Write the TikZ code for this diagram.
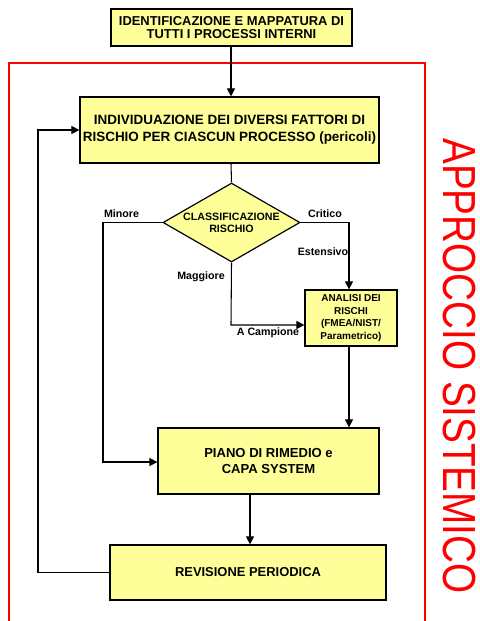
\documentclass[tikz,border=0pt]{standalone}
\usepackage{fontspec}
\setmainfont{Liberation Sans}
\usetikzlibrary{arrows.meta,shapes.geometric}

\definecolor{boxfill}{RGB}{255,255,153}
\definecolor{frame}{RGB}{255,0,0}

\begin{document}
\begin{tikzpicture}[
    x=0.75pt, y=-0.75pt,
    >={Triangle[length=6pt,width=6pt]},
    box/.style={draw, line width=0.9pt, fill=boxfill, align=center, inner sep=2pt, font=\bfseries\fontsize{9.7}{10}\selectfont},
    decision/.style={diamond, aspect=1.73, draw, line width=0.9pt, fill=boxfill, align=center, inner sep=0pt, font=\bfseries\fontsize{8}{9}\selectfont},
    tag/.style={font=\bfseries\fontsize{8}{9}\selectfont, inner sep=1pt},
    line/.style={->, line width=0.8pt},
    plain/.style={line width=0.8pt}
]
\useasboundingbox (0,0) rectangle (479,621);

% Red frame and title
\draw[frame, line width=2pt] (9,621) -- (9,63) -- (425,63) -- (425,621);
\node[text=frame, rotate=-90, inner sep=0pt] (title) at (459,366)
    {\scalebox{1}[1.2]{\fontsize{29}{30}\selectfont APPROCCIO SISTEMICO}};

% Boxes
\node[box, minimum width=180.75pt, minimum height=27.75pt] (mappa) at (231.5,27.5)
    {IDENTIFICAZIONE E MAPPATURA DI\\TUTTI I PROCESSI INTERNI};
\node[box, minimum width=224.25pt, minimum height=49.5pt, font=\bfseries\fontsize{10.1}{12.75}\selectfont] (fattori) at (229.5,130)
    {INDIVIDUAZIONE DEI DIVERSI FATTORI DI\\RISCHIO PER CIASCUN PROCESSO (pericoli)};
\node[decision, minimum width=102.75pt, minimum height=59.25pt] (classe) at (231.5,222.5)
    {CLASSIFICAZIONE\\RISCHIO};
\node[box, minimum width=69pt, minimum height=42pt, font=\bfseries\fontsize{7.5}{9.4}\selectfont] (analisi) at (351,318)
    {ANALISI DEI\\RISCHI\\(FMEA/NIST/\\Parametrico)};
\node[box, minimum width=165.75pt, minimum height=49.5pt, font=\bfseries\fontsize{9.8}{12}\selectfont] (piano) at (268.5,461)
    {PIANO DI RIMEDIO e\\CAPA SYSTEM};
\node[box, minimum width=207pt, minimum height=41.25pt, font=\bfseries\fontsize{9.7}{12}\selectfont] (revisione) at (248,572.5)
    {REVISIONE PERIODICA};

% Connectors
\draw[line] (mappa.south -| 231,0) -- (fattori.north -| 231,0);
\draw[plain] (fattori.south -| 231,0) -- (classe.north);
\draw[line] (classe.west) -- (103,222.5) |- (piano.west |- 0,462);
\draw[line] (classe.east) -- (349,222.5) -- (analisi.north -| 349,0);
\draw[line] (classe.south) -- (231,325) -- (analisi.west |- 0,325);
\draw[line] (analisi.south -| 349,0) -- (piano.north -| 349,0);
\draw[line] (piano.south -| 250,0) -- (revisione.north -| 250,0);
\draw[line] (revisione.west) -- (38,572.5) |- (fattori.west);

% Labels
\node[tag] (minore) at (121.5,214) {Minore};
\node[tag] (critico) at (325,214) {Critico};
\node[tag] (estensivo) at (323,252) {Estensivo};
\node[tag] (maggiore) at (201,277) {Maggiore};
\node[tag, anchor=north] (campione) at (268,326) {A Campione};
\end{tikzpicture}
\end{document}
